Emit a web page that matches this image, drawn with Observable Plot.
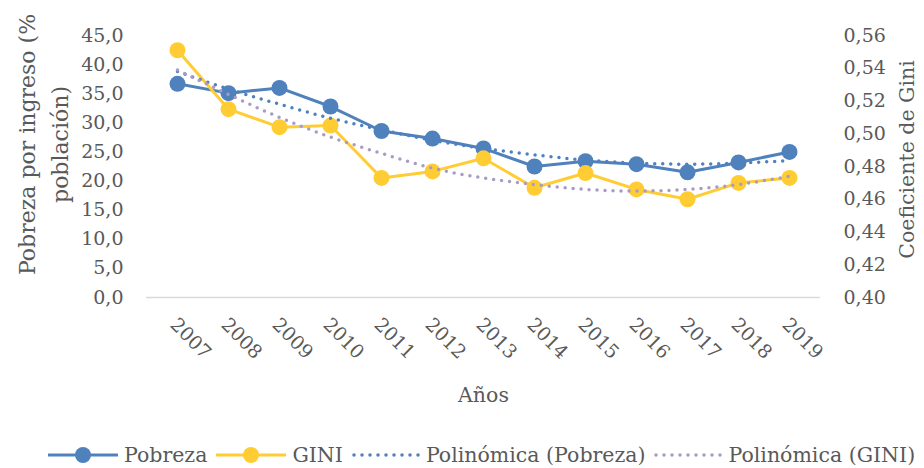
<!DOCTYPE html>
<html>
<head>
<meta charset="utf-8">
<script src="https://cdn.jsdelivr.net/npm/d3@7"></script>
<script src="https://cdn.jsdelivr.net/npm/@observablehq/plot@0.6"></script>
<style>
  html, body { margin: 0; padding: 0; background: #fff; }
  #chart { width: 924px; }
  .legend { display: flex; justify-content: flex-start; align-items: center; height: 50px; padding-left: 48px;
    box-sizing: border-box; width: 924px; white-space: nowrap;
    font-family: "DejaVu Serif", serif; font-size: 20.5px; color: #595959; }
  .legend .item { display: flex; align-items: center; margin-right: 9px; flex-shrink: 0; white-space: nowrap; }
  .legend svg { margin-right: 6px; flex-shrink: 0; }
</style>
</head>
<body>
<div id="chart"></div>
<script>
// ---- data ----
const years = [2007, 2008, 2009, 2010, 2011, 2012, 2013, 2014, 2015, 2016, 2017, 2018, 2019];
const pobreza = [36.7, 35.1, 36.0, 32.8, 28.6, 27.3, 25.6, 22.5, 23.4, 22.9, 21.5, 23.2, 25.0];
const gini = [0.551, 0.515, 0.504, 0.505, 0.473, 0.477, 0.485, 0.467, 0.476, 0.466, 0.460, 0.470, 0.473];
const trendPobreza = [38.8, 35.8, 33.2, 30.8, 28.8, 27.0, 25.6, 24.5, 23.6, 23.1, 22.9, 23.1, 23.5];
const trendGini = [0.539, 0.524, 0.510, 0.498, 0.488, 0.479, 0.473, 0.469, 0.466, 0.465, 0.466, 0.469, 0.474];
const leftTicks = [0, 5, 10, 15, 20, 25, 30, 35, 40, 45];
const rightTicks = [0.40, 0.42, 0.44, 0.46, 0.48, 0.50, 0.52, 0.54, 0.56];
const seriesNames = ["Pobreza", "GINI", "Polinómica (Pobreza)", "Polinómica (GINI)"];
const colors = { blue: "#4F81BD", yellow: "#FFCD33", purple: "#A99BC6", text: "#595959", grid: "#D9D9D9" };

// right (GINI) axis domain mapped onto the left scale
const leftMax = 45, giniMin = 0.40, giniMax = 0.56;
const toLeft = g => (g - giniMin) / (giniMax - giniMin) * leftMax;
const fromLeft = v => giniMin + v / leftMax * (giniMax - giniMin);

const rowsP = years.map((year, i) => ({ year, v: pobreza[i] }));
const rowsG = years.map((year, i) => ({ year, v: toLeft(gini[i]) }));
const rowsTP = years.map((year, i) => ({ year, v: trendPobreza[i] }));
const rowsTG = years.map((year, i) => ({ year, v: toLeft(trendGini[i]) }));

const comma1 = d => d.toFixed(1).replace(".", ",");
const comma2 = d => d.toFixed(2).replace(".", ",");

const chart = Plot.plot({
  width: 924,
  height: 430,
  marginLeft: 146,
  marginRight: 104,
  marginTop: 35,
  marginBottom: 133,
  style: { fontFamily: "DejaVu Serif, serif", fontSize: "19px", color: colors.text, background: "#fff" },
  x: { type: "point", domain: years, padding: 0.5 },
  y: { domain: [0, leftMax] },
  marks: [
    Plot.ruleY([0], { stroke: colors.grid, strokeWidth: 1.5 }),
    Plot.axisY({ anchor: "left", ticks: leftTicks, tickFormat: comma1, tickSize: 0, tickPadding: 23, label: null, fontSize: 19 }),
    Plot.axisY({ anchor: "right", ticks: rightTicks.map(toLeft), tickFormat: v => comma2(fromLeft(v)), tickSize: 0, tickPadding: 23, label: null, fontSize: 19 }),
    Plot.axisX({ tickRotate: 45, tickSize: 0, tickPadding: 24, dx: -4, label: null, tickFormat: d => String(d), fontSize: 19 }),
    Plot.line(rowsP, { x: "year", y: "v", stroke: colors.blue, strokeWidth: 3 }),
    Plot.dot(rowsP, { x: "year", y: "v", r: 8, fill: colors.blue }),
    Plot.line(rowsG, { x: "year", y: "v", stroke: colors.yellow, strokeWidth: 3 }),
    Plot.dot(rowsG, { x: "year", y: "v", r: 8, fill: colors.yellow }),
    Plot.line(rowsTP, { x: "year", y: "v", curve: "natural", stroke: colors.blue, strokeWidth: 3.5, strokeDasharray: "0 8", strokeLinecap: "round" }),
    Plot.line(rowsTG, { x: "year", y: "v", curve: "natural", stroke: colors.purple, strokeWidth: 3.5, strokeDasharray: "0 8", strokeLinecap: "round" }),
    // axis titles
    Plot.text(["Pobreza por ingreso (%\npoblación)"], { frameAnchor: "left", rotate: -90, dx: -106, dy: -22, lineHeight: 1.5, fontSize: 22, fill: colors.text, lineAnchor: "middle", textAnchor: "middle" }),
    Plot.text(["Coeficiente de Gini"], { frameAnchor: "right", rotate: -90, dx: 87, dy: -7, fontSize: 20.5, fill: colors.text, lineAnchor: "middle", textAnchor: "middle" }),
    Plot.text(["Años"], { frameAnchor: "bottom", dy: 98, fontSize: 20.5, fill: colors.text, lineAnchor: "middle", textAnchor: "middle" })
  ]
});
document.getElementById("chart").appendChild(chart);

// legend
const legend = document.createElement("div");
legend.className = "legend";
const swatch = (kind, color) => {
  if (kind === "marker") {
    return `<svg width="70" height="20"><line x1="0" y1="10" x2="70" y2="10" stroke="${color}" stroke-width="3"/><circle cx="35" cy="10" r="8" fill="${color}"/></svg>`;
  }
  return `<svg width="68" height="20"><line x1="2" y1="10" x2="68" y2="10" stroke="${color}" stroke-width="3.5" stroke-dasharray="0 8" stroke-linecap="round"/></svg>`;
};
const legendDefs = [
  [seriesNames[0], "marker", colors.blue],
  [seriesNames[1], "marker", colors.yellow],
  [seriesNames[2], "dot", colors.blue],
  [seriesNames[3], "dot", colors.purple]
];
legend.innerHTML = legendDefs.map(([name, kind, color]) => `<span class="item">${swatch(kind, color)}<span>${name}</span></span>`).join("");
document.getElementById("chart").appendChild(legend);
</script>
</body>
</html>
